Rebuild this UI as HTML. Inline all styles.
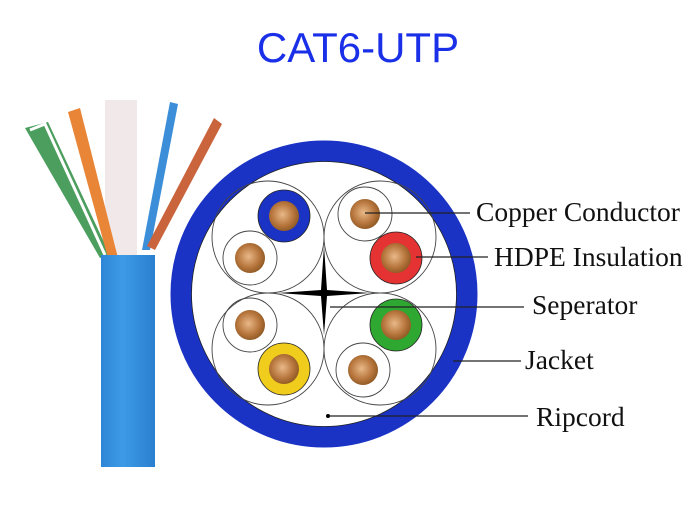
<!DOCTYPE html>
<html><head><meta charset="utf-8"><style>
html,body{margin:0;padding:0;background:#fff;}
</style></head><body>
<svg width="700" height="500" viewBox="0 0 700 500" xmlns="http://www.w3.org/2000/svg">
<defs>
<radialGradient id="cu" cx="0.45" cy="0.45" r="0.6">
<stop offset="0" stop-color="#e8b888"/><stop offset="0.6" stop-color="#b8773e"/><stop offset="1" stop-color="#8a5520"/>
</radialGradient>
<linearGradient id="cab" x1="0" x2="1">
<stop offset="0" stop-color="#2f86d6"/><stop offset="0.4" stop-color="#3d9ae6"/><stop offset="1" stop-color="#2a7fcf"/>
</linearGradient>
</defs>
<text x="358" y="62" text-anchor="middle" font-family="Liberation Sans, sans-serif" font-size="42" fill="#1a2fe8">CAT6-UTP</text>
<rect x="105" y="100" width="32" height="160" fill="#f1e8ea"/>
<path d="M25 128 L48 122 L110 255 L100 258 Z" fill="#4b9e5e"/>
<path d="M30 130 L45 124 L105 255" stroke="#fff" stroke-width="3" fill="none"/>
<path d="M68 112 L80 108 L118 258 L108 258 Z" fill="#e98537"/>
<path d="M170 102 L178 104 L150 250 L142 250 Z" fill="#3c8ed8"/>
<path d="M214 118 L222 124 L155 250 L147 246 Z" fill="#c9643c"/>
<rect x="101" y="255" width="54" height="212" fill="url(#cab)"/>
<circle cx="324" cy="294" r="143" fill="#fff" stroke="#1b33c4" stroke-width="21"/>
<circle cx="324" cy="294" r="132.5" fill="none" stroke="#222" stroke-width="0.8"/>
<g fill="none" stroke="#444" stroke-width="0.9">
<circle cx="268" cy="237" r="56"/><circle cx="380" cy="237" r="56"/>
<circle cx="268" cy="349" r="56"/><circle cx="380" cy="349" r="56"/>
<circle cx="250" cy="258" r="27"/><circle cx="365" cy="214" r="27"/>
<circle cx="250" cy="325" r="27"/><circle cx="363" cy="370" r="27"/>
</g>
<path d="M324 246 L327 290 L370 293 L327 296 L324 335 L321 296 L278 293 L321 290 Z" fill="#000"/>
<circle cx="284" cy="216" r="26" fill="#1b33c4" stroke="#222" stroke-width="0.8"/>
<circle cx="396" cy="258" r="26" fill="#e53232" stroke="#222" stroke-width="0.8"/>
<circle cx="396" cy="325" r="26" fill="#2fa832" stroke="#222" stroke-width="0.8"/>
<circle cx="284" cy="369" r="26" fill="#f0cc1c" stroke="#222" stroke-width="0.8"/>
<g fill="url(#cu)">
<circle cx="284" cy="216" r="15"/><circle cx="396" cy="258" r="15"/>
<circle cx="396" cy="325" r="15"/><circle cx="284" cy="369" r="15"/>
<circle cx="250" cy="258" r="15"/><circle cx="365" cy="214" r="15"/>
<circle cx="250" cy="325" r="15"/><circle cx="363" cy="370" r="15"/>
</g>
<g stroke="#222" stroke-width="1.3">
<line x1="365" y1="213" x2="470" y2="213"/>
<line x1="416" y1="257" x2="488" y2="257"/>
<line x1="330" y1="307" x2="524" y2="307"/>
<line x1="453" y1="361" x2="521" y2="361"/>
<line x1="328" y1="416" x2="528" y2="416"/>
</g>
<circle cx="328" cy="416" r="2" fill="#000"/>
<g font-family="Liberation Serif, serif" font-size="27.5" fill="#111">
<text x="476" y="221">Copper Conductor</text>
<text x="494" y="266">HDPE Insulation</text>
<text x="532" y="314">Seperator</text>
<text x="525" y="369">Jacket</text>
<text x="536" y="426">Ripcord</text>
</g>
</svg>
</body></html>
